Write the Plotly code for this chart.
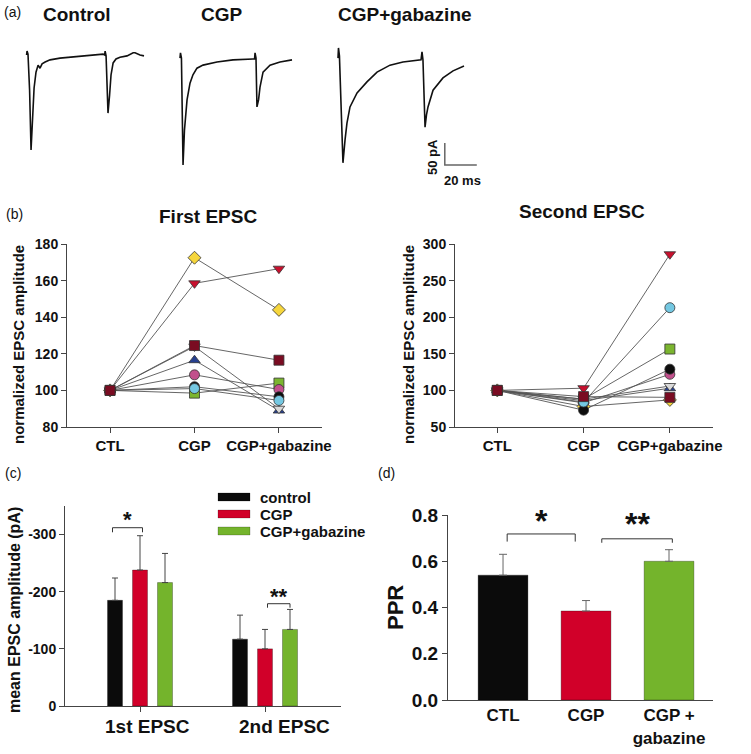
import plotly.graph_objects as go

W, H = 751, 754
FONT = "Arial, Liberation Sans, sans-serif"
NARROW = "Liberation Sans Narrow, Arial Narrow, Arial, sans-serif"
INK = "#111111"
AXIS = "#444444"


def px(x):
    return x / W


def py(y):
    return 1 - y / H


# ── (a) example traces: time (ms from first stimulus) / current (pA) ─────────
ctl_t = [0, 0.3, 0.9, 1.9, 2.8, 3.8, 4.7, 5.9, 7.2, 8.4, 9.7, 11.6, 14.7, 20.9, 27.2,
         36.6, 47.8, 48.8, 49.1, 49.7, 50.3, 50.9, 51.9, 52.8, 54.1, 55.9, 58.4, 62.8,
         66.6, 67.8, 70.9, 73.4]
ctl_i = [0, 9, 2, -80, -216, -148, -75, -39, -23, -30, -20, -16, -11, -7, -5,
         -2, 2, 0, 9, -2, -80, -132, -91, -45, -18, -9, -5, -2,
         5, 5, 0, -2]
cgp_t = [0, 0.3, 0.9, 1.25, 1.9, 2.8, 4.4, 6.25, 8.1, 10.6, 14.4, 23.1, 33.1, 45.6,
         46.6, 46.9, 47.5, 48.1, 49.1, 50, 51.9, 56.25, 62.5, 70]
cgp_i = [-7, 5, -7, -102, -250, -170, -102, -64, -45, -30, -23, -16, -11, -9,
         -9, 5, -7, -118, -102, -73, -39, -23, -16, -11]
gab_t = [0, 0.3, 0.9, 1.9, 3.1, 4.4, 5.6, 7.5, 11.9, 18.1, 24.4, 32.5, 40.6, 51.9,
         52.5, 53.1, 53.75, 54.4, 55.3, 56.25, 59.4, 65.6, 71.9, 78.75]
gab_i = [-7, 16, -2, -125, -245, -193, -155, -118, -86, -61, -39, -23, -16, -11,
         7, -11, -102, -164, -136, -118, -80, -52, -36, -25]
trace_titles = ["Control", "CGP", "CGP+gabazine"]
scale_ms, scale_pa = 20, 50

# ── (b) normalized EPSC amplitude per cell (CTL = 100) ───────────────────────
conditions = ["CTL", "CGP", "CGP+gabazine"]
ctl_norm = [100, 100, 100, 100, 100, 100, 100, 100, 100]
first_cgp = [172.5, 158.5, 124.5, 116.5, 108.5, 102, 101, 98.5, 124]
first_gab = [144, 166.5, 116.5, 89, 100.5, 96.5, 94.5, 104, 90]
second_cgp = [78, 103, 91.5, 86, 83, 73, 84, 88, 88]
second_gab = [87, 286, 90.5, 103, 122, 129, 213, 156.5, 106]

# ── (c) mean EPSC amplitude (pA, shown as negative) ─────────────────────────
epsc_groups = ["1st EPSC", "2nd EPSC"]
series_names = ["control", "CGP", "CGP+gabazine"]
amp_ctl = [185, 117]
amp_ctl_err = [39, 42]
amp_cgp = [238, 100]
amp_cgp_err = [60, 34]
amp_gab = [216, 134]
amp_gab_err = [51, 35]

# ── (d) paired-pulse ratio ───────────────────────────────────────────────────
ppr_labels = ["CTL", "CGP", "CGP +<br>gabazine"]
ppr = [0.54, 0.385, 0.60]
ppr_err = [0.09, 0.045, 0.05]

BLACK, RED, GREEN = "#0b0b0b", "#d10029", "#74b42c"

# marker style per cell (same order as the arrays above)
cell_style = [
    ("diamond", "#f6d63c"),
    ("triangle-down", "#c8102e"),
    ("square", "#7a0c22"),
    ("triangle-up", "#27408f"),
    ("circle", "#c2508c"),
    ("circle", "#0d0d0d"),
    ("circle", "#74c8e2"),
    ("square", "#7bb52f"),
    ("triangle-down", "#d9d9d9"),
]
draw_order = [3, 8, 0, 1, 7, 4, 5, 6, 2]

fig = go.Figure()

# (a) traces
offsets_ms = [16.6, 112.5, 211.25]
for (t, i), t0 in zip([(ctl_t, ctl_i), (cgp_t, cgp_i), (gab_t, gab_i)], offsets_ms):
    fig.add_trace(go.Scatter(
        x=[v + t0 for v in t], y=i, mode="lines",
        line=dict(color=INK, width=1.6), xaxis="x", yaxis="y",
        showlegend=False, hoverinfo="skip",
    ))
bar_x, bar_y = 278, -250
fig.add_trace(go.Scatter(
    x=[bar_x, bar_x, bar_x + scale_ms],
    y=[bar_y + scale_pa, bar_y, bar_y],
    mode="lines", line=dict(color="#666666", width=1.5),
    xaxis="x", yaxis="y", showlegend=False, hoverinfo="skip",
))

# (b) cell lines then markers
for ax, cgp_vals, gab_vals in [("2", first_cgp, first_gab), ("3", second_cgp, second_gab)]:
    for k in draw_order:
        fig.add_trace(go.Scatter(
            x=conditions, y=[ctl_norm[k], cgp_vals[k], gab_vals[k]],
            mode="lines", line=dict(color="#555555", width=0.9),
            xaxis="x" + ax, yaxis="y" + ax, showlegend=False, hoverinfo="skip",
        ))
    for k in draw_order:
        sym, col = cell_style[k]
        fig.add_trace(go.Scatter(
            x=conditions, y=[ctl_norm[k], cgp_vals[k], gab_vals[k]],
            mode="markers",
            marker=dict(symbol=sym, color=col, size=10,
                        line=dict(color="#333333", width=0.8)),
            xaxis="x" + ax, yaxis="y" + ax, showlegend=False,
        ))

# (c) grouped bars
for name, vals, errs, col in zip(series_names,
                                 [amp_ctl, amp_cgp, amp_gab],
                                 [amp_ctl_err, amp_cgp_err, amp_gab_err],
                                 [BLACK, RED, GREEN]):
    fig.add_trace(go.Bar(
        x=[0, 1], y=vals, name=name, marker_color=col,
        marker_line=dict(color="rgba(0,0,0,0.35)", width=0.8),
        error_y=dict(type="data", array=errs, arrayminus=[0, 0], symmetric=False,
                     color="#444444", thickness=1, width=3),
        xaxis="x4", yaxis="y4", showlegend=False,
    ))

# (d) PPR bars
fig.add_trace(go.Bar(
    x=ppr_labels, y=ppr, width=0.6,
    marker_color=[BLACK, RED, GREEN],
    marker_line=dict(color="rgba(0,0,0,0.35)", width=0.8),
    error_y=dict(type="data", array=ppr_err, arrayminus=[0, 0, 0], symmetric=False,
                 color="#666666", thickness=1, width=4),
    xaxis="x5", yaxis="y5", showlegend=False,
))

bold = lambda s: dict(family=FONT, size=s, color=INK, weight="bold")
hidden = dict(visible=False, fixedrange=True, automargin=False)


def axis_line(**kw):
    base = dict(showline=True, linecolor=AXIS, linewidth=1, showgrid=False,
                zeroline=False, ticks="outside", ticklen=5, tickcolor=AXIS,
                fixedrange=True, automargin=False)
    base.update(kw)
    return base


annotations = []


def text(x, y, s, size=15, weight="bold", angle=0, color=INK, xanchor="center",
         family=FONT):
    annotations.append(dict(
        x=px(x), y=py(y), xref="paper", yref="paper", text=s, showarrow=False,
        xanchor=xanchor, yanchor="middle",
        textangle=angle, font=dict(family=family, size=size, color=color, weight=weight),
    ))


# panel letters
text(13, 12, "(a)", 14, "normal")
text(14, 214, "(b)", 14, "normal")
text(13, 473, "(c)", 14, "normal")
text(386, 473, "(d)", 14, "normal")

# (a) headers and scale bar text
for s, x in zip(trace_titles, [77, 222, 405]):
    text(x, 14, s, 19, family=NARROW)
text(432, 157, f"{scale_pa} pA", 13, angle=-90)
text(462, 180, f"{scale_ms} ms", 13)

# (b) titles
text(208, 217, "First EPSC", 19)
text(582, 211, "Second EPSC", 19)
text(18, 345, "normalized EPSC amplitude", 15, angle=-90)
text(408, 345, "normalized EPSC amplitude", 15, angle=-90)

# (c) y title, group labels (sit a little right of the ticks), legend
text(14, 610, "mean EPSC amplitude (pA)", 16, angle=-90)
for s, x in zip(epsc_groups, [147, 284]):
    text(x, 726, s, 19)
shapes = []
for name, col, yy in zip(series_names, [BLACK, RED, GREEN], [497, 514, 531]):
    shapes.append(dict(type="rect", xref="paper", yref="paper",
                       x0=px(218), x1=px(250), y0=py(yy + 4), y1=py(yy - 4),
                       fillcolor=col, line=dict(color="rgba(0,0,0,0.35)", width=0.6)))
    text(258, yy, name, 15, xanchor="left")


# significance brackets
def bracket(xr, yr, x0, x1, ytop, ydrop, stars, sy, size):
    shapes.append(dict(type="path", xref=xr, yref=yr,
                       path=f"M {x0},{ydrop} L {x0},{ytop} L {x1},{ytop} L {x1},{ydrop}",
                       line=dict(color="#333333", width=1)))
    annotations.append(dict(x=(x0 + x1) / 2, y=sy, xref=xr, yref=yr, text=stars,
                            showarrow=False, xanchor="center", yanchor="middle",
                            font=bold(size)))


bracket("x4", "y4", -0.22, 0.02, 312, 304, "*", 326, 22)
bracket("x4", "y4", 1.02, 1.2, 179, 172, "**", 192, 22)

# (d) title + brackets
text(395, 608, "PPR", 22, angle=-90)
bracket("x5", "y5", 0.05, 0.87, 0.718, 0.685, "*", 0.775, 32)
bracket("x5", "y5", 1.19, 2.04, 0.697, 0.68, "**", 0.76, 32)

fig.update_layout(
    width=W, height=H,
    margin=dict(l=0, r=0, t=0, b=0, pad=0),
    paper_bgcolor="white", plot_bgcolor="white",
    font=dict(family=FONT, color=INK),
    barmode="group", bargap=0.4, bargroupgap=0.4,
    showlegend=False,
    xaxis=dict(domain=[0, 1], range=[0, W / 1.6], anchor="y", **hidden),
    yaxis=dict(domain=[py(200), 1], range=[-329.5, 125], anchor="x", **hidden),
    xaxis2=axis_line(domain=[px(67), px(322)], range=[-0.51, 2.51], anchor="y2",
                     tickfont=bold(15)),
    yaxis2=axis_line(domain=[py(427), py(244)], range=[80, 180], anchor="x2",
                     tickvals=[80, 100, 120, 140, 160, 180], tickfont=bold(14)),
    xaxis3=axis_line(domain=[px(455), px(713)], range=[-0.49, 2.5], anchor="y3",
                     tickfont=bold(15)),
    yaxis3=axis_line(domain=[py(427), py(244)], range=[50, 300], anchor="x3",
                     tickvals=[50, 100, 150, 200, 250, 300], tickfont=bold(14)),
    xaxis4=axis_line(domain=[px(65), px(341)], range=[-0.6, 1.608], anchor="y4",
                     tickvals=[0, 1], showticklabels=False),
    yaxis4=axis_line(domain=[py(706), py(506)], range=[0, 350], anchor="x4",
                     tickvals=[0, 100, 200, 300], ticktext=["0", "-100", "-200", "-300"],
                     tickfont=bold(14)),
    xaxis5=axis_line(domain=[px(448), px(713)], range=[-0.663, 2.53], anchor="y5",
                     ticks="", tickfont=bold(17)),
    yaxis5=axis_line(domain=[py(700), py(515)], range=[0, 0.8], anchor="x5",
                     tickvals=[0, 0.2, 0.4, 0.6, 0.8], tickformat=".1f",
                     tickfont=bold(19)),
    annotations=annotations,
    shapes=shapes,
)

# page body has a default 8px margin; drop it so the figure fills the window
fig.write_html("out.html", config={"displayModeBar": False},
               post_script="document.body.style.margin = '0';")
